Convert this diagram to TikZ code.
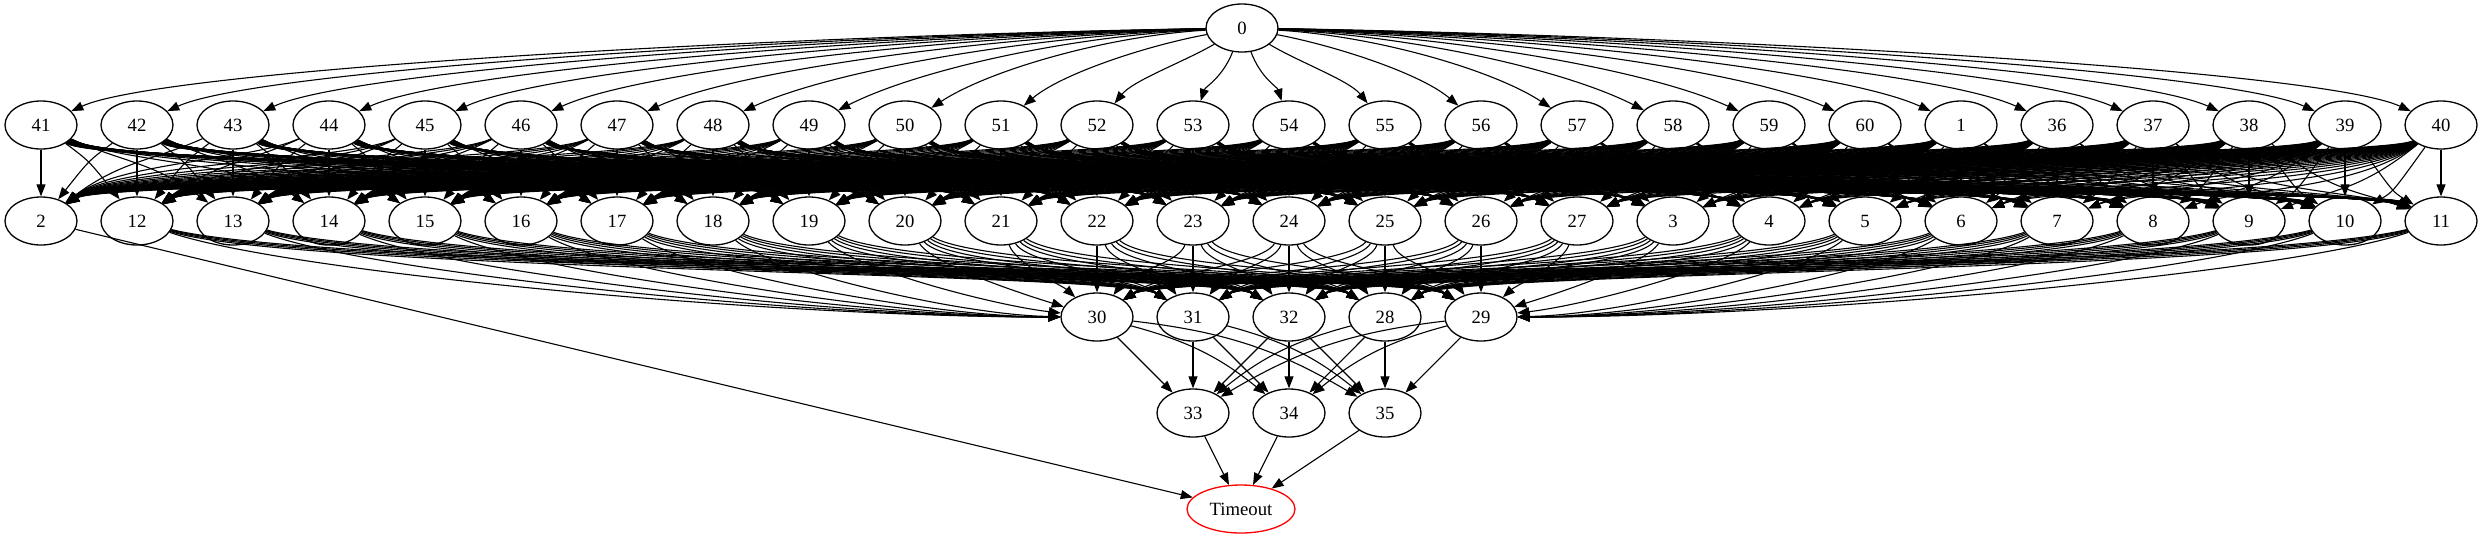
\documentclass[tikz,border=0pt]{standalone}
\usepackage{fontspec}
\setmainfont{Liberation Serif}
\usetikzlibrary{shapes.geometric,arrows.meta}
\begin{document}
\begin{tikzpicture}[x=1pt,y=-1pt,
  gnode/.style={ellipse,draw,line width=1.3pt,minimum width=72pt,minimum height=48pt,inner sep=0pt,font=\fontsize{18.7}{20}\selectfont},
  gedge/.style={line width=1.1pt,-{Triangle[length=12pt,width=9pt]}},
  ]
\useasboundingbox (0,0) rectangle (2483,539);
% nodes
\node[gnode] (n0) at (1242,28) {0};
\foreach \s [count=\i from 0] in {41,42,43,44,45,46,47,48,49,50,51,52,53,54,55,56,57,58,59,60,1,36,37,38,39,40}
  \node[gnode] (n\s) at ({41+96*\i},125) {\s};
\foreach \s [count=\i from 0] in {2,12,13,14,15,16,17,18,19,20,21,22,23,24,25,26,27,3,4,5,6,7,8,9,10,11}
  \node[gnode] (n\s) at ({41+96*\i},221) {\s};
\foreach \s [count=\i from 0] in {30,31,32,28,29}
  \node[gnode] (n\s) at ({1097+96*\i},317) {\s};
\foreach \s [count=\i from 1] in {33,34,35}
  \node[gnode] (n\s) at ({1097+96*\i},413) {\s};
\node[gnode,draw=red,minimum width=108pt] (nT) at (1241,509) {Timeout};
% 0 -> row 2
\foreach \s [count=\i from 0] in {41,42,43,44,45,46,47,48,49,50,51,52,53,54,55,56,57,58,59,60,1,36,37,38,39,40} {
  \pgfmathsetmacro\xt{41+96*\i}
  \pgfmathsetmacro\dx{\xt-1242}
  \pgfmathsetmacro\tt{min(abs(\dx)/300,1)}
  \pgfmathsetmacro\xa{1242+0.4*\dx}
  \pgfmathsetmacro\ya{36+50*(1-\tt)}
  \pgfmathsetmacro\xb{\xt-(\dx<0?-1:1)*min(0.25*abs(\dx),120)}
  \pgfmathsetmacro\yb{70+20*(1-\tt)}
  \draw[gedge] (n0) .. controls (\xa,\ya) and (\xb,\yb) .. (n\s);
}
% row 2 -> row 3
\foreach \s [count=\i from 0] in {41,42,43,44,45,46,47,48,49,50,51,52,53,54,55,56,57,58,59,60,1,36,37,38,39,40} {
  \foreach \t [count=\j from 0] in {2,12,13,14,15,16,17,18,19,20,21,22,23,24,25,26,27,3,4,5,6,7,8,9,10,11} {
    \pgfmathsetmacro\dx{96*(\j-\i)}
    \pgfmathsetmacro\c{(\dx<0?-1:1)*min(0.5*abs(\dx),80)}
    \pgfmathsetmacro\xa{41+96*\i+\c}
    \pgfmathsetmacro\xb{41+96*\j-\c}
    \pgfmathsetmacro\ym{160+0.9*\j+0.4*\i}
    \draw[gedge] (n\s) .. controls (\xa,\ym) and (\xb,\ym) .. (n\t);
  }
}
% row 3 -> row 4
\foreach \s [count=\j from 1] in {12,13,14,15,16,17,18,19,20,21,22,23,24,25,26,27,3,4,5,6,7,8,9,10,11} {
  \foreach \t [count=\k from 0] in {30,31,32,28,29} {
    \pgfmathsetmacro\xs{41+96*\j}
    \pgfmathsetmacro\xt{1097+96*\k}
    \pgfmathsetmacro\dx{\xt-\xs}
    \pgfmathsetmacro\sg{(\dx<0?-1:1)}
    \pgfmathsetmacro\tt{min(abs(\dx)/400,1)}
    \pgfmathsetmacro\free{((\dx>0 && \k==0) || (\dx<0 && \k==4) || (\dx==0)) ? 1 : 0}
    \pgfmathsetmacro\xa{\xs+0.15*\dx}
    \pgfmathsetmacro\ya{261+10*\tt}
    \pgfmathsetmacro\xb{\free>0.5 ? \xt-0.35*\dx : \xt-\sg*min(0.35*abs(\dx),70)}
    \pgfmathsetmacro\yb{\free>0.5 ? 317-40*(1-\tt) : 272}
    \draw[gedge] (n\s) .. controls (\xa,\ya) and (\xb,\yb) .. (n\t);
  }
}
% row 4 -> row 5
\foreach \s [count=\k from 0] in {30,31,32,28,29} {
  \foreach \t [count=\m from 1] in {33,34,35} {
    \pgfmathsetmacro\dx{96*(\m-\k)}
    \pgfmathsetmacro\b{(\dx>96?12:(\dx<-96?-12:0))}
    \draw[gedge] (n\s) to[bend left=\b] (n\t);
  }
}
% to Timeout
\foreach \s in {33,34,35} \draw[gedge] (n\s) -- (nT);
\draw[gedge] (n2) -- (nT);
\end{tikzpicture}
\end{document}
